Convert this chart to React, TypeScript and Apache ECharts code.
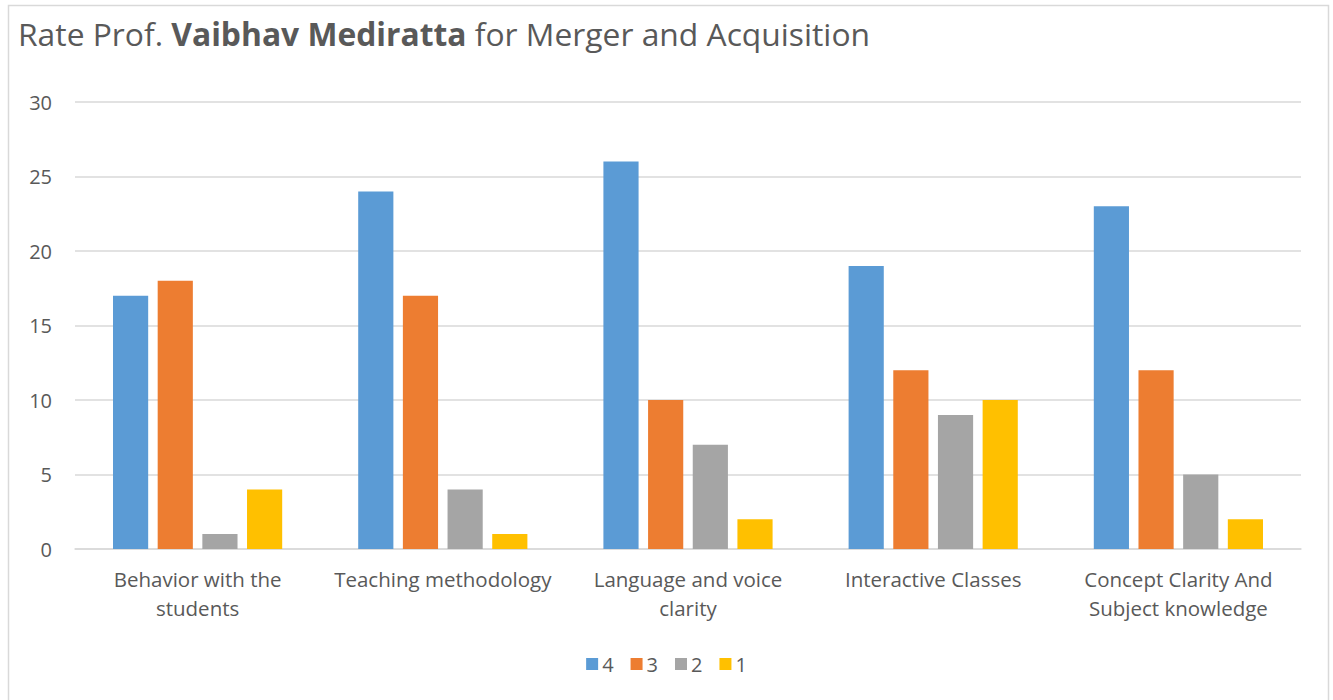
import React, { useEffect, useRef } from "react";
import * as echarts from "echarts";

const categories = [
  "Behavior with the\nstudents",
  "Teaching methodology",
  "Language and voice\nclarity",
  "Interactive Classes",
  "Concept Clarity And\nSubject knowledge",
];
const seriesNames = ["4", "3", "2", "1"];
const rating4 = [17, 24, 26, 19, 23];
const rating3 = [18, 17, 10, 12, 12];
const rating2 = [1, 4, 7, 9, 5];
const rating1 = [4, 1, 2, 10, 2];
const colors = ["#5B9BD5", "#ED7D31", "#A5A5A5", "#FFC000"];

const FONT = "'Open Sans', 'Noto Sans', sans-serif";

export default function App() {
  const ref = useRef<HTMLDivElement>(null);
  useEffect(() => {
    if (!ref.current) return;
    const chart = echarts.init(ref.current, undefined, { renderer: "svg" });
    const data = [rating4, rating3, rating2, rating1];
    chart.setOption({
      animation: false,
      backgroundColor: "#ffffff",
      textStyle: { fontFamily: FONT },
      graphic: [
        {
          type: "rect",
          shape: { x: 8.5, y: 5.5, width: 1320, height: 720 },
          style: { fill: "none", stroke: "#D9D9D9", lineWidth: 1.5 },
          silent: true,
        },
      ],
      title: {
        text: "Rate Prof. {b|Vaibhav Mediratta} for Merger and Acquisition",
        left: 13,
        top: 12,
        textStyle: {
          fontFamily: FONT,
          fontSize: 31.8,
          fontWeight: "normal",
          color: "#595959",
          rich: {
            b: { fontFamily: FONT, fontSize: 31.8, fontWeight: "bold", color: "#595959" },
          },
        },
      },
      legend: {
        data: seriesNames,
        bottom: 21,
        left: "center",
        icon: "rect",
        itemWidth: 12,
        itemHeight: 12,
        itemGap: 17,
        textStyle: { fontFamily: FONT, fontSize: 20, color: "#595959", padding: [0, 0, 0, -1] },
      },
      grid: { left: 75, right: 32, top: 102, bottom: 151, containLabel: false },
      xAxis: {
        type: "category",
        data: categories,
        axisLine: { lineStyle: { color: "#D9D9D9", width: 1.5 } },
        axisTick: { show: false },
        axisLabel: {
          fontFamily: FONT,
          fontSize: 20.5,
          color: "#595959",
          lineHeight: 29,
          margin: 15,
          interval: 0,
        },
      },
      yAxis: {
        type: "value",
        min: 0,
        max: 30,
        interval: 5,
        axisLine: { show: false },
        axisTick: { show: false },
        splitLine: { lineStyle: { color: "#D9D9D9", width: 1.5 } },
        axisLabel: { fontFamily: FONT, fontSize: 20, color: "#595959", margin: 23 },
      },
      series: seriesNames.map((name, i) => ({
        name,
        type: "bar",
        data: data[i],
        itemStyle: { color: colors[i] },
        barGap: "27%",
        barCategoryGap: "31%",
      })),
    });
    return () => chart.dispose();
  }, []);
  return (
    <div
      ref={ref}
      style={{ position: "absolute", left: 0, top: 0, width: 1333, height: 700 }}
    />
  );
}
